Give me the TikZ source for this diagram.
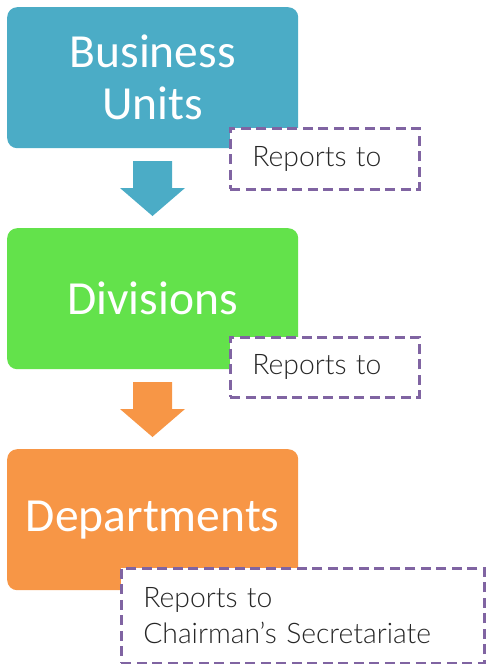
\documentclass[tikz,border=0pt]{standalone}
\usepackage{fontspec}
\setmainfont{Carlito}
\newfontfamily\notefont{Lato Light}
\usetikzlibrary{positioning}
\definecolor{unitblue}{HTML}{4BACC6}
\definecolor{unitgreen}{HTML}{63E24B}
\definecolor{unitorange}{HTML}{F79646}
\definecolor{noteline}{HTML}{8064A2}
\definecolor{notetext}{HTML}{262626}

\begin{document}
\begin{tikzpicture}[x=1pt, y=-1pt,
    unit/.style={rectangle, rounded corners=10pt, anchor=north west, minimum width=291pt, minimum height=141pt, inner sep=0pt, align=center, text=white, font=\fontsize{47.5}{52}\selectfont},
    note/.style={rectangle, draw=noteline, fill=white, line width=2.7pt, dash pattern=on 10pt off 5.5pt, anchor=north west, inner xsep=22pt, inner ysep=0pt, align=left, text=notetext, font=\notefont\fontsize{28.3}{36}\selectfont}]
    \useasboundingbox (0,0) rectangle (485,664);

    % Boxes
    \node[unit, fill=unitblue] (units) at (7,7) {Business\\Units};
    \node[unit, fill=unitgreen] (divisions) at (7,228) {Divisions};
    \node[unit, fill=unitorange] (departments) at (7,449) {Departments};

    % Block arrows
    \fill[unitblue] (133,161) -- (172,161) -- (172,188) -- (185,188) -- (152.5,216) -- (120,188) -- (133,188) -- cycle;
    \fill[unitorange] (133,382) -- (172,382) -- (172,409) -- (185,409) -- (152.5,437) -- (120,409) -- (133,409) -- cycle;

    % Notes
    \node[note, minimum height=61pt, text width=145pt] (note-units) at (229,127) {Reports to};
    \node[note, minimum height=60pt, text width=145pt] (note-divisions) at (229,336) {Reports to};
    \node[note, minimum height=95pt, text width=319pt] (note-departments) at (120,567) {Reports to\\Chairman’s Secretariate};

\end{tikzpicture}
\end{document}
